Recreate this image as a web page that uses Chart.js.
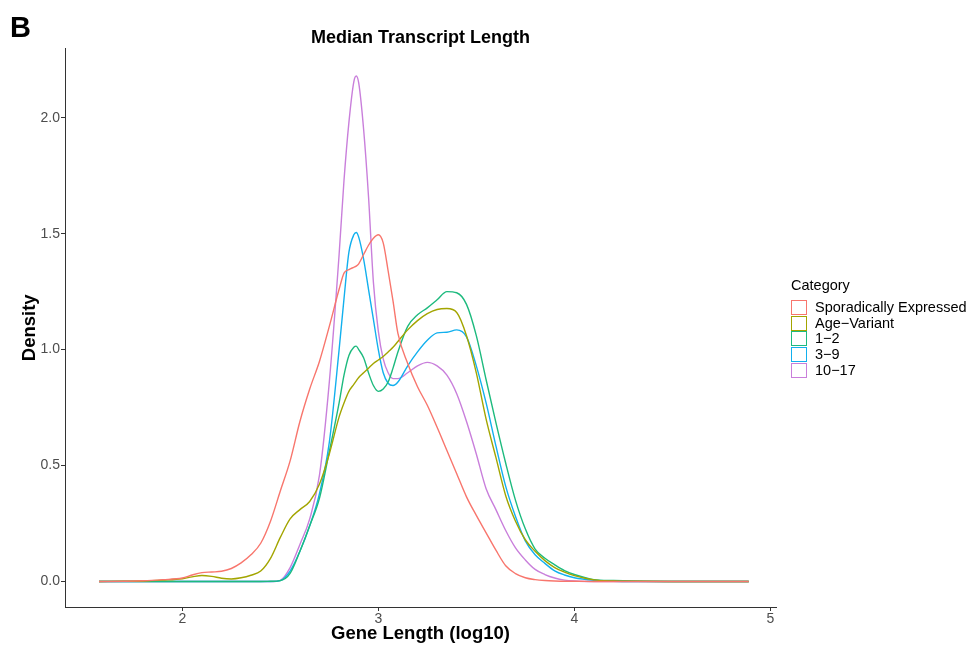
<!DOCTYPE html>
<html><head><meta charset="utf-8">
<script src="https://cdn.jsdelivr.net/npm/chart.js@4"></script>
<style>
html,body{margin:0;padding:0;background:#fff;}
#wrap{position:relative;width:971px;height:647px;font-family:"Liberation Sans",Arial,Helvetica,sans-serif;color:#000;}
canvas{position:absolute;left:0;top:0;}
#panel{position:absolute;left:10px;top:13px;font-weight:bold;font-size:29px;line-height:29px;}
#legTitle{position:absolute;left:791px;top:277px;font-size:14.5px;line-height:16px;}
.row{position:absolute;left:791px;height:15px;}
.key{position:absolute;left:0;top:0;width:14px;height:13px;border:1px solid;background:#fff;}
.lab{position:absolute;left:24px;top:-1px;font-size:14.5px;line-height:16px;white-space:nowrap;}
</style></head><body>
<div id="wrap"><canvas id="c" width="971" height="647"></canvas><div id="panel">B</div><div id="legTitle">Category</div></div>
<script>
const xValues = [1.575,1.7,1.8,1.9,2.0,2.05,2.1,2.15,2.2,2.25,2.3,2.35,2.4,2.45,2.5,2.55,2.6,2.65,2.7,2.75,2.8,2.825,2.85,2.875,2.8875,2.9,2.925,2.95,2.975,3.0,3.025,3.05,3.075,3.1,3.15,3.2,3.25,3.3,3.35,3.4,3.45,3.5,3.55,3.6,3.65,3.7,3.75,3.8,3.85,3.9,3.95,4.0,4.1,4.2,4.3,4.5,4.7,4.89];

const sporadic = [0,0.001,0.003,0.008,0.015,0.028,0.038,0.041,0.044,0.056,0.08,0.115,0.165,0.26,0.39,0.52,0.69,0.83,0.95,1.1,1.26,1.33,1.345,1.355,1.36,1.37,1.41,1.45,1.48,1.495,1.46,1.34,1.21,1.07,0.94,0.84,0.76,0.665,0.565,0.465,0.365,0.285,0.21,0.135,0.068,0.034,0.016,0.008,0.004,0.002,0.001,0.001,0,0,0,0,0,0];

const ageVariant = [0,0.001,0.002,0.006,0.012,0.02,0.026,0.022,0.014,0.011,0.016,0.027,0.045,0.1,0.19,0.27,0.31,0.345,0.42,0.55,0.71,0.77,0.82,0.85,0.865,0.88,0.9,0.92,0.94,0.955,0.97,0.99,1.01,1.035,1.085,1.125,1.155,1.173,1.177,1.16,1.06,0.9,0.7,0.535,0.37,0.26,0.18,0.13,0.09,0.06,0.04,0.025,0.007,0.002,0.001,0,0,0];

const range1to2 = [0,0,0,0,0,0,0,0,0,0,0,0,0,0.001,0.004,0.035,0.13,0.24,0.36,0.56,0.77,0.89,0.975,1.01,1.015,1.0,0.965,0.9,0.845,0.82,0.83,0.86,0.92,0.99,1.1,1.15,1.18,1.215,1.25,1.245,1.195,1.06,0.87,0.685,0.51,0.35,0.227,0.14,0.1,0.072,0.047,0.03,0.008,0.004,0.002,0,0,0];

const range3to9 = [0,0,0,0,0,0,0,0,0,0,0,0,0,0,0.004,0.045,0.13,0.24,0.38,0.6,1.0,1.22,1.42,1.495,1.505,1.485,1.39,1.26,1.13,1.0,0.9,0.855,0.845,0.86,0.93,0.99,1.04,1.072,1.075,1.085,1.055,0.93,0.77,0.585,0.41,0.28,0.175,0.115,0.078,0.046,0.028,0.016,0.005,0.001,0,0,0,0];

const range10to17 = [0,0,0,0,0,0,0,0,0,0,0,0,0,0,0.005,0.06,0.16,0.27,0.46,0.86,1.41,1.73,1.98,2.155,2.18,2.15,1.95,1.66,1.29,1.08,0.96,0.9,0.875,0.875,0.9,0.93,0.945,0.93,0.89,0.81,0.69,0.55,0.4,0.31,0.22,0.145,0.093,0.052,0.03,0.015,0.006,0.002,0,0,0,0,0,0];

const seriesNames = ['Sporadically Expressed','Age\u2212Variant','1\u22122','3\u22129','10\u221217'];
const seriesValues = [sporadic, ageVariant, range1to2, range3to9, range10to17];
const seriesColors = ['#F8766D','#A3A500','#1DBA7E','#12B0EE','#C97FDB'];
const xTicks = [2,3,4,5];
const yTicks = [0,0.5,1.0,1.5,2.0];

const FAM = '"Liberation Sans", Arial, Helvetica, sans-serif';

const datasets = seriesNames.map((name,i)=>({
  label:name,
  data:xValues.map((x,j)=>({x:x, y:seriesValues[i][j]})),
  borderColor:seriesColors[i],
  backgroundColor:seriesColors[i],
  borderWidth:1.4,
  pointRadius:0,
  fill:false,
  cubicInterpolationMode:'monotone'
}));

new Chart(document.getElementById('c'), {
  type:'line',
  data:{datasets:datasets},
  options:{
    responsive:false, animation:false, devicePixelRatio:1,
    layout:{padding:{left:0,right:195,top:0,bottom:0}},
    plugins:{
      legend:{display:false},
      tooltip:{enabled:false},
      title:{display:true,text:'Median Transcript Length',fullSize:false,color:'#000',
        font:{family:FAM,size:18,weight:'bold',lineHeight:1.2},padding:{top:27,bottom:0}}
    },
    scales:{
      x:{type:'linear',min:1.4015,max:5.029,
        afterBuildTicks:s=>{s.ticks=xTicks.map(v=>({value:v}));},
        afterFit:s=>{s.height=40;},
        ticks:{color:'#4D4D4D',font:{family:FAM,size:14},padding:0,maxRotation:0,autoSkip:false,callback:v=>String(v)},
        grid:{drawOnChartArea:false,drawTicks:true,tickLength:4,color:'#333',lineWidth:1},
        border:{display:true,color:'#333',width:1},
        title:{display:true,text:'Gene Length (log10)',color:'#000',font:{family:FAM,size:18.5,weight:'bold',lineHeight:1.2},padding:{top:0,bottom:2}}
      },
      y:{type:'linear',min:-0.11,max:2.298,
        afterBuildTicks:s=>{s.ticks=yTicks.map(v=>({value:v}));},
        afterFit:s=>{s.width=65;},
        ticks:{color:'#4D4D4D',font:{family:FAM,size:14},padding:1,autoSkip:false,callback:v=>Number(v).toFixed(1)},
        grid:{drawOnChartArea:false,drawTicks:true,tickLength:4,color:'#333',lineWidth:1},
        border:{display:true,color:'#333',width:1},
        title:{display:true,text:'Density',color:'#000',font:{family:FAM,size:18.5,weight:'bold',lineHeight:1.2},padding:{top:19,bottom:0}}
      }
    }
  }
});

const wrap = document.getElementById('wrap');
seriesNames.forEach((name,i)=>{
  const row = document.createElement('div');
  row.className='row';
  row.style.top = (300 + i*15.65).toFixed(2)+'px';
  const key = document.createElement('div');
  key.className='key';
  key.style.borderColor = seriesColors[i];
  const lab = document.createElement('div');
  lab.className='lab';
  lab.textContent = name;
  row.appendChild(key); row.appendChild(lab);
  wrap.appendChild(row);
});
</script>
</body></html>
